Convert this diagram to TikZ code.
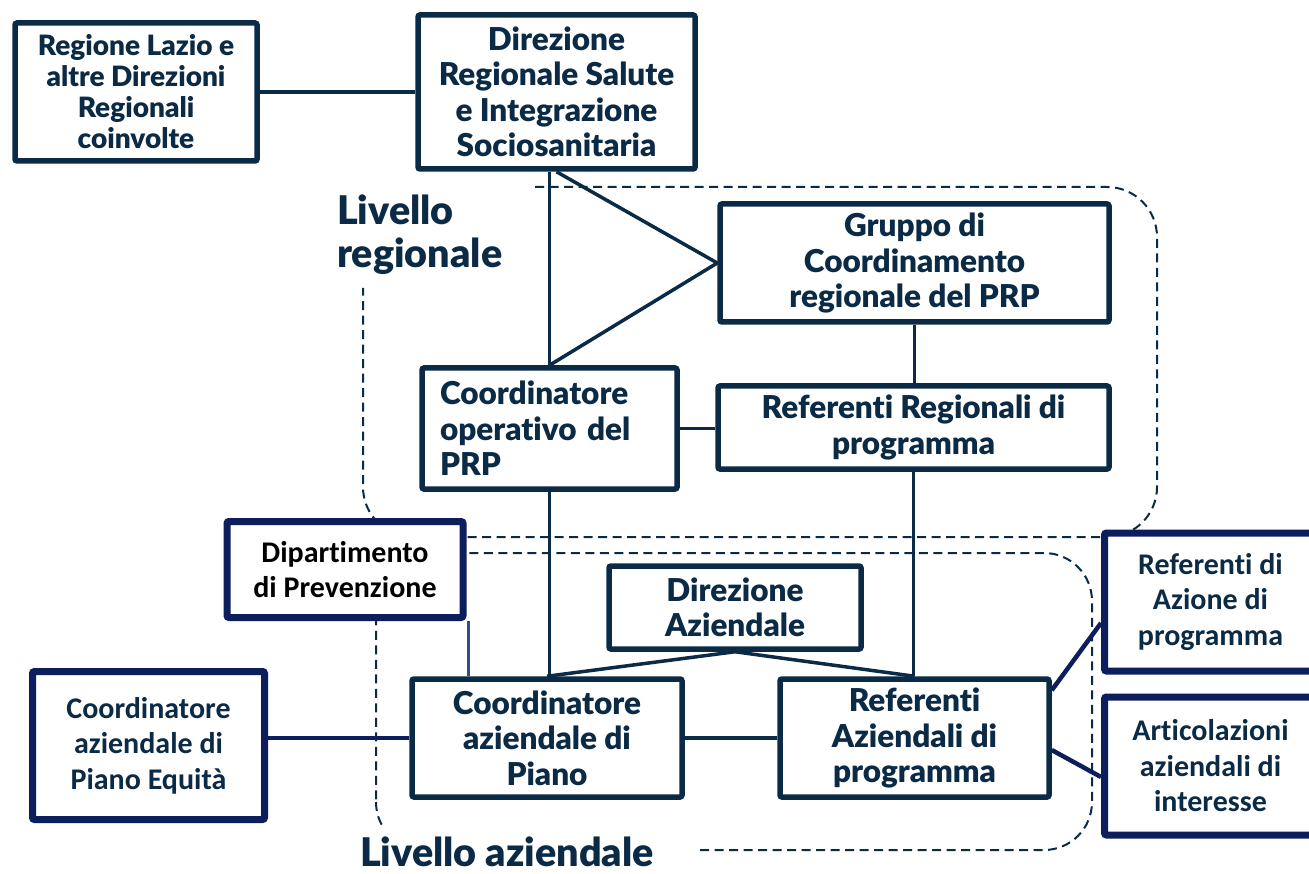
\documentclass[tikz,border=0pt]{standalone}
\usepackage{fontspec}
\usetikzlibrary{calc}
\newfontfamily\gill{Lato Black}[RawFeature=-liga]
\newfontfamily\calib{Carlito}[RawFeature=-liga]
\definecolor{dk}{HTML}{0B2A45}
\definecolor{nv}{HTML}{0C1E5B}
\definecolor{mb}{HTML}{2F4E8A}
\begin{document}
\begin{tikzpicture}[x=1pt,y=-1pt,
  box/.style={draw=dk, line width=5.5pt, fill=white, rounded corners=2pt, inner sep=0pt, text=dk,
    font=\gill\fontsize{31.5}{35.5}\selectfont, align=center},
  cbox/.style={draw=nv, line width=7pt, fill=white, rounded corners=2pt, inner sep=0pt, text=dk,
    font=\calib\bfseries\fontsize{30}{35.5}\selectfont, align=center},
  sz/.style 2 args={minimum width=#1pt, minimum height=#2pt},
  conn/.style={draw=dk, line width=3.5pt},
  nconn/.style={draw=nv, line width=4.5pt},
  dpconn/.style={draw=mb, line width=3pt},
  region/.style={draw=dk, line width=2pt, dash pattern=on 9pt off 5.5pt},
  lvl/.style={text=dk, font=\gill\fontsize{39.5}{46}\selectfont, inner sep=0pt, anchor=base west}
]
\useasboundingbox (0,0) rectangle (1309,874);
\fill[white] (0,0) rectangle (1309,874);

% dashed regions
\draw[region, rounded corners=50pt] (535,187) -- (1157,187) -- (1157,537) -- (363,537) -- (363,288);
\draw[region, rounded corners=48pt] (700,850) -- (1092,850) -- (1092,553) -- (376,553) -- (376,802);
\draw[region] (376,802) arc[start angle=180, end angle=150, radius=48];

% labels
\node[lvl] (lr1) at (337,225) {Livello};
\node[lvl] (lr2) at (337,268) {regionale};
\node[lvl] (la) at (360,866) {Livello aziendale};

% boxes
\node[box, sz={242}{138}, font=\gill\fontsize{28}{31}\selectfont] (R) at (136,92) {Regione Lazio e\\altre Direzioni\\Regionali\\coinvolte};
\node[box, sz={277}{154}] (DR) at (556.5,92) {Direzione\\Regionale Salute\\e Integrazione\\Sociosanitaria};
\node[box, sz={389}{118}] (G) at (914.5,263) {Gruppo di\\Coordinamento\\regionale del PRP};
\node[box, sz={255}{121}, text width=219pt, inner xsep=18pt, align=left] (CO) at (549.5,428.5) {Coordinatore\\operativo del\\PRP};
\node[box, sz={391}{83}] (RR) at (913.5,427.5) {Referenti Regionali di\\programma};
\node[cbox, sz={236}{96}, text=black] (DP) at (345,569.5) {Dipartimento\\di Prevenzione};
\node[box, sz={252}{83}] (DA) at (735,607.5) {Direzione\\Aziendale};
\node[box, sz={270}{118}] (CA) at (547,738) {Coordinatore\\aziendale di\\Piano};
\node[box, sz={269}{118}] (RA) at (914.5,738) {Referenti\\Aziendali di\\programma};
\node[cbox, sz={232}{148}] (CE) at (148.5,745.5) {Coordinatore\\aziendale di\\Piano Equità};
\node[cbox, sz={212}{138}] (RAz) at (1210.5,602) {Referenti di\\Azione di\\programma};
\node[cbox, sz={212}{138}] (AR) at (1210.5,766) {Articolazioni\\aziendali di\\interesse};

% connectors
\draw[conn] (R.east) -- (DR.west);
\draw[conn] (CO.north |- DR.south) -- (CO.north);
\draw[conn, line join=round] (DR.south) -- (G.west) -- (CO.north);
\draw[conn] (G.south) -- (G.south |- RR.north);
\draw[conn] (CO.east) -- (CO.east -| RR.west);
\draw[conn] (CO.south) -- (CO.south |- CA.north);
\draw[conn] (RR.south) -- (RR.south |- RA.north);
\draw[conn, line join=round] (CA.north) -- (DA.south) -- (RA.north);
\draw[dpconn] ([xshift=2pt]DP.south east) -- ([xshift=2pt]DP.south east |- CA.north);
\draw[nconn] (CA.west -| CE.east) -- (CA.west);
\draw[conn] (CA.east) -- (RA.west);
\draw[nconn] ($(RA.north east)+(0,14)$) -- ($(RAz.west)+(0,21)$);
\draw[nconn] ($(RA.east)+(0,12)$) -- ($(AR.west)+(0,11)$);
\end{tikzpicture}
\end{document}
